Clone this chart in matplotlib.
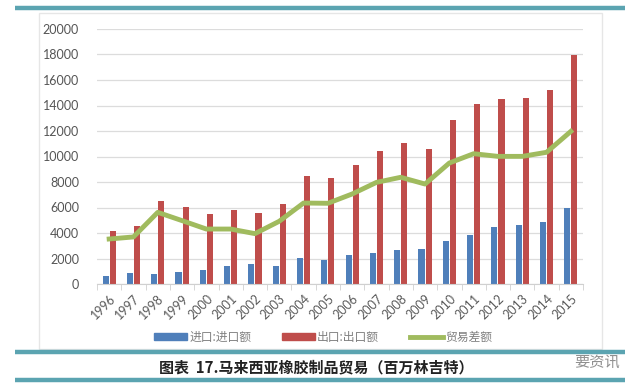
import matplotlib
matplotlib.use("Agg")
import matplotlib.pyplot as plt
import numpy as np
from matplotlib.lines import Line2D
from matplotlib.patches import Rectangle

plt.rcParams['font.family'] = ['Lato', 'Noto Sans CJK SC', 'DejaVu Sans']

years = ['1996', '1997', '1998', '1999', '2000', '2001', '2002', '2003', '2004', '2005',
         '2006', '2007', '2008', '2009', '2010', '2011', '2012', '2013', '2014', '2015']
imports = [600, 860, 760, 920, 1070, 1410, 1590, 1410, 2010, 1910,
           2270, 2400, 2690, 2750, 3370, 3840, 4440, 4630, 4840, 5960]
exports = [4130, 4520, 6480, 6010, 5490, 5780, 5590, 6300, 8440, 8290,
           9310, 10400, 11060, 10560, 12840, 14140, 14510, 14590, 15190, 17990]
balance = [3530, 3690, 5620, 4970, 4310, 4310, 3950, 4920, 6350, 6330,
           7060, 7970, 8370, 7840, 9490, 10220, 10010, 10010, 10330, 11970]
yticks = [0, 2000, 4000, 6000, 8000, 10000, 12000, 14000, 16000, 18000, 20000]

lab_imp = '进口:进口额'
lab_exp = '出口:出口额'
lab_bal = '贸易差额'
title = '图表  17.马来西亚橡胶制品贸易（百万林吉特）'

W, H = 640, 390
fig = plt.figure(figsize=(W / 100, H / 100), dpi=100)
fig.patch.set_facecolor('white')

def fx(px):
    return px / W

def fy(py):
    return 1 - py / H

# chart box
fig.add_artist(Rectangle((fx(39), fy(349)), fx(602) - fx(39), fy(13) - fy(349),
                         transform=fig.transFigure, facecolor='white',
                         edgecolor='#e6e6e6', lw=1, zorder=0))

# teal lines
teal = '#5ba4b1'
for y in (8, 352, 380):
    fig.add_artist(Line2D([fx(15), fx(625)], [fy(y), fy(y)], transform=fig.transFigure,
                          color=teal, lw=3.2, solid_capstyle='butt'))

ax = fig.add_axes([fx(97), fy(284), fx(583) - fx(97), fy(29) - fy(284)])
ax.set_facecolor('none')

x = np.arange(len(years))
bw = 0.25
off = 0.145
ax.bar(x - off, imports, bw, color='#4f7fba', label=lab_imp, zorder=2)
ax.bar(x + off, exports, bw, color='#bf4d4b', label=lab_exp, zorder=2)
ax.plot(x, balance, color='#a0bb5e', lw=3.5, label=lab_bal, zorder=3,
        solid_joinstyle='round')

ax.set_xlim(-0.5, len(years) - 0.5)
ax.set_ylim(0, 20000)
ax.set_yticks(yticks)
ax.set_yticklabels([str(v) for v in yticks])
ax.grid(axis='y', color='#dcdcdc', lw=0.9, zorder=0)
ax.set_axisbelow(True)
for s in ('top', 'right', 'left'):
    ax.spines[s].set_visible(False)
ax.spines['bottom'].set_color('#d0d0d0')
ax.tick_params(axis='y', length=0, pad=13, labelsize=9, labelcolor='#555555')
ax.set_xticks(x)
ax.set_xticklabels(years, rotation=45, ha='right', rotation_mode='anchor',
                   fontsize=9, color='#5a5a5a')
ax.tick_params(axis='x', which='major', length=0, pad=6)
ax.set_xticks(np.arange(-0.5, len(years), 1), minor=True)
ax.tick_params(axis='x', which='minor', length=4, color='#d0d0d0')

handles = [Rectangle((0, 0), 1, 1, color='#4f7fba'),
           Rectangle((0, 0), 1, 1, color='#bf4d4b'),
           Line2D([0], [0], color='#a0bb5e', lw=3.5)]
fig.legend(handles, [lab_imp, lab_exp, lab_bal], loc='center',
           bbox_to_anchor=(fx(323), fy(337)), ncol=3, frameon=False,
           prop={'family': ['Noto Sans CJK SC', 'DejaVu Sans'], 'size': 8.5},
           labelcolor='#808080', handlelength=2.8, handleheight=0.5,
           handletextpad=0.2, columnspacing=2.6)

fig.text(fx(316), fy(367), title, ha='center', va='center', fontsize=10.8,
         fontweight='bold', color='#222222',
         family=['Noto Sans CJK SC', 'DejaVu Sans'])
fig.text(fx(597), fy(362), '要资讯', ha='center', va='center', fontsize=11,
         color='#909090', family=['Noto Sans CJK SC', 'DejaVu Sans'])

fig.savefig('out.png', dpi=100, facecolor='white')
